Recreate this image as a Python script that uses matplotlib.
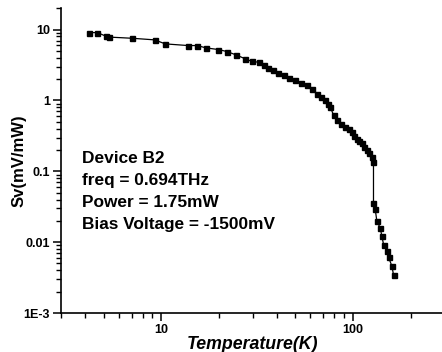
import matplotlib as mpl
import matplotlib.pyplot as plt
import matplotlib.ticker as ticker

mpl.rc('font', family='Liberation Sans', weight='bold')
mpl.rc('axes', labelweight='bold')

# temperature (K) and responsivity Sv (mV/mW)
temperature = [4.18, 4.64, 5.13, 5.32, 7.06, 9.23, 10.5, 13.8, 15.4, 17.1,
               19.8, 22.0, 24.5, 27.4, 29.7, 32.2, 34.2, 36.1, 38.5, 40.8,
               43.5, 46.5, 50.0, 53.7, 57.5, 61.1, 64.9, 67.9, 71.7, 74.3,
               76.2, 79.2, 82.6, 86.9, 91.2, 95.1, 98.8, 101.6, 104.9, 107.9,
               111.4, 114.5, 118.3, 121.6, 125.6, 128.0, 128.0, 130.6, 133.3, 138.8,
               141.6, 144.5, 150.4, 153.5, 159.7, 163.0]
sv = [9.08, 9.08, 8.11, 7.85, 7.55, 7.17, 6.29, 5.96, 5.96, 5.53,
      5.24, 4.91, 4.41, 3.88, 3.55, 3.47, 3.12, 2.88, 2.65, 2.45,
      2.26, 2.08, 1.92, 1.77, 1.63, 1.47, 1.25, 1.11, 1.01, 0.90,
      0.81, 0.62, 0.53, 0.46, 0.42, 0.39, 0.36, 0.32, 0.29, 0.27,
      0.25, 0.224, 0.20, 0.181, 0.161, 0.137, 0.0356, 0.0297, 0.0197, 0.0159,
      0.0121, 0.00925, 0.00745, 0.00608, 0.00459, 0.0034]

y_ticks = [1e-3, 1e-2, 1e-1, 1, 10]
y_ticklabels = ['1E-3', '0.01', '0.1', '1', '10']
x_ticks = [10, 100]
x_ticklabels = ['10', '100']

info = ['Device B2', 'freq = 0.694THz', 'Power = 1.75mW', 'Bias Voltage = -1500mV']

fig = plt.figure(figsize=(4.42, 3.52), dpi=100)
ax = fig.add_axes([61/442, 39/352, 383.4/442, 304.7/352])

ax.plot(temperature, sv, color='black', lw=0.9, marker='s', ms=3.6,
        mec='black', mfc='black', clip_on=False)

ax.set_xscale('log')
ax.set_yscale('log')
ax.set_xlim(3, 300)
ax.set_ylim(1e-3, 20)

ax.xaxis.set_major_locator(ticker.FixedLocator(x_ticks))
ax.xaxis.set_major_formatter(ticker.FixedFormatter(x_ticklabels))
ax.xaxis.set_minor_locator(ticker.LogLocator(base=10, subs=range(2, 10), numticks=20))
ax.xaxis.set_minor_formatter(ticker.NullFormatter())
ax.yaxis.set_major_locator(ticker.FixedLocator(y_ticks))
ax.yaxis.set_major_formatter(ticker.FixedFormatter(y_ticklabels))
ax.yaxis.set_minor_locator(ticker.LogLocator(base=10, subs=range(2, 10), numticks=20))
ax.yaxis.set_minor_formatter(ticker.NullFormatter())

for side in ['top', 'right']:
    ax.spines[side].set_visible(False)
for side in ['left', 'bottom']:
    ax.spines[side].set_linewidth(1.2)

ax.tick_params(which='major', direction='out', length=6, width=1.1, labelsize=9, pad=2)
ax.tick_params(which='minor', direction='out', length=3.5, width=1.0)
for lab in ax.get_xticklabels() + ax.get_yticklabels():
    lab.set_fontweight('bold')

ax.set_xlabel('Temperature(K)', fontsize=12.8, style='italic', fontweight='bold')
ax.set_ylabel('Sv(mV/mW)', fontsize=12, fontweight='bold')
ax.xaxis.set_label_coords(0.5, -0.074)
ax.yaxis.set_label_coords(-0.09, 0.5)

# device info block
baselines = [162.7, 185.0, 206.7, 229.3]
for line, yb in zip(info, baselines):
    fig.text(81.5/442, 1 - yb/352, line, fontsize=12.4, fontweight='bold',
             va='baseline', ha='left')

plt.savefig('out.png', dpi=100)
